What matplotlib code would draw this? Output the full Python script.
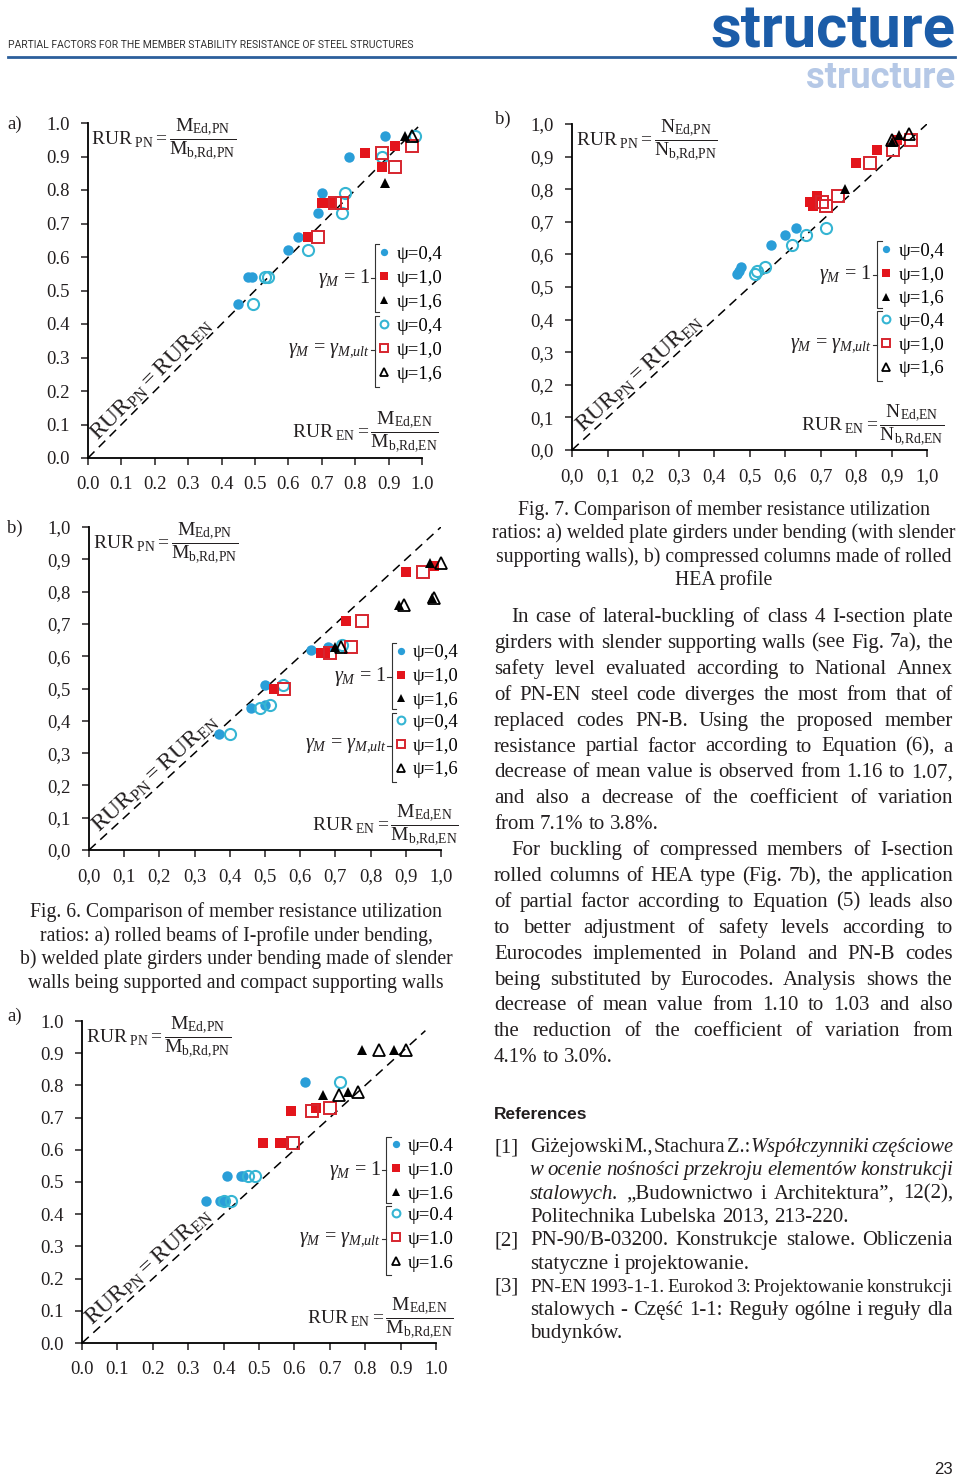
import math
import matplotlib
matplotlib.use("Agg")
import matplotlib.pyplot as plt

plt.rcParams["font.family"] = ["Liberation Serif", "DejaVu Serif"]
plt.rcParams["mathtext.fontset"] = "custom"
plt.rcParams["mathtext.rm"] = "Liberation Serif"
plt.rcParams["mathtext.it"] = "Liberation Serif:italic"
plt.rcParams["mathtext.bf"] = "Liberation Serif:bold"

# ---- values (x = RUR_EN, y = RUR_PN) ----
# Fig. 6a: rolled beams of I-profile under bending
f6a_circle_full = [(0.45, 0.46), (0.48, 0.54), (0.49, 0.54), (0.60, 0.62), (0.63, 0.66),
                   (0.69, 0.73), (0.70, 0.79), (0.78, 0.90), (0.89, 0.96)]
f6a_circle_open = [(0.495, 0.46), (0.53, 0.54), (0.54, 0.54), (0.66, 0.62), (0.76, 0.73),
                   (0.77, 0.79), (0.88, 0.90), (0.98, 0.96)]
f6a_square_full = [(0.66, 0.66), (0.70, 0.76), (0.715, 0.76), (0.73, 0.76), (0.83, 0.91),
                   (0.88, 0.87), (0.92, 0.93)]
f6a_square_open = [(0.69, 0.66), (0.74, 0.76), (0.76, 0.76), (0.88, 0.91), (0.92, 0.87), (0.97, 0.93)]
f6a_tri_full = [(0.89, 0.82), (0.95, 0.96)]
f6a_tri_open = [(0.97, 0.96)]

# Fig. 6b: welded plate girders, slender walls supported
f6b_circle_full = [(0.37, 0.36), (0.46, 0.44), (0.50, 0.45), (0.50, 0.51), (0.63, 0.62), (0.68, 0.63)]
f6b_circle_open = [(0.40, 0.36), (0.485, 0.44), (0.515, 0.45), (0.55, 0.51), (0.72, 0.635)]
f6b_square_full = [(0.525, 0.50), (0.66, 0.61), (0.67, 0.61), (0.73, 0.71), (0.90, 0.86), (0.98, 0.88)]
f6b_square_open = [(0.555, 0.50), (0.685, 0.61), (0.745, 0.63), (0.775, 0.71), (0.95, 0.86)]
f6b_tri_full = [(0.70, 0.63), (0.88, 0.76), (0.975, 0.78), (0.97, 0.89)]
f6b_tri_open = [(0.715, 0.63), (0.895, 0.76), (0.98, 0.78), (1.0, 0.89)]

# Fig. 7a: welded plate girders with slender supporting walls
f7a_circle_full = [(0.35, 0.44), (0.39, 0.44), (0.40, 0.44), (0.41, 0.52), (0.45, 0.52),
                   (0.455, 0.52), (0.63, 0.81)]
f7a_circle_open = [(0.40, 0.44), (0.42, 0.44), (0.47, 0.52), (0.49, 0.52), (0.73, 0.81)]
f7a_square_full = [(0.51, 0.62), (0.56, 0.62), (0.57, 0.62), (0.59, 0.72), (0.66, 0.73)]
f7a_square_open = [(0.595, 0.62), (0.65, 0.72), (0.70, 0.73)]
f7a_tri_full = [(0.68, 0.77), (0.75, 0.78), (0.79, 0.91), (0.88, 0.91)]
f7a_tri_open = [(0.725, 0.77), (0.78, 0.78), (0.84, 0.91), (0.915, 0.91)]

# Fig. 7b: compressed columns of rolled HEA profile
f7b_circle_full = [(0.465, 0.54), (0.47, 0.55), (0.475, 0.56), (0.56, 0.63), (0.60, 0.66), (0.63, 0.68)]
f7b_circle_open = [(0.515, 0.54), (0.52, 0.55), (0.545, 0.56), (0.62, 0.63), (0.66, 0.66), (0.715, 0.68)]
f7b_square_full = [(0.67, 0.76), (0.68, 0.75), (0.69, 0.78), (0.80, 0.88), (0.86, 0.92), (0.915, 0.95)]
f7b_square_open = [(0.705, 0.76), (0.715, 0.75), (0.75, 0.78), (0.84, 0.88), (0.905, 0.92), (0.955, 0.95)]
f7b_tri_full = [(0.77, 0.80), (0.90, 0.945), (0.92, 0.965)]
f7b_tri_open = [(0.90, 0.95), (0.95, 0.97)]

TICKS = [0.0, 0.1, 0.2, 0.3, 0.4, 0.5, 0.6, 0.7, 0.8, 0.9, 1.0]
PSI = ["0.4", "1.0", "1.6"]

HEADER = "PARTIAL FACTORS FOR THE MEMBER STABILITY RESISTANCE OF STEEL STRUCTURES"
FIG6_CAPTION = [
    "Fig. 6. Comparison of member resistance utilization",
    "ratios: a) rolled beams of I-profile under bending,",
    "b) welded plate girders under bending made of slender",
    "walls being supported and compact supporting walls",
]
FIG7_CAPTION = [
    "Fig. 7. Comparison of member resistance utilization",
    "ratios: a) welded plate girders under bending (with slender",
    "supporting walls), b) compressed columns made of rolled",
    "HEA profile",
]
PARA1 = [
    "In case of lateral-buckling of class 4 I-section plate",
    "girders with slender supporting walls (see Fig. 7a), the",
    "safety level evaluated according to National Annex",
    "of PN-EN steel code diverges the most from that of",
    "replaced codes PN-B. Using the proposed member",
    "resistance partial factor according to Equation (6), a",
    "decrease of mean value is observed from 1.16 to 1.07,",
    "and also a decrease of the coefficient of variation",
    "from 7.1% to 3.8%.",
]
PARA2 = [
    "For buckling of compressed members of I-section",
    "rolled columns of HEA type (Fig. 7b), the application",
    "of partial factor according to Equation (5) leads also",
    "to better adjustment of safety levels according to",
    "Eurocodes implemented in Poland and PN-B codes",
    "being substituted by Eurocodes. Analysis shows the",
    "decrease of mean value from 1.10 to 1.03 and also",
    "the reduction of the coefficient of variation from",
    "4.1% to 3.0%.",
]
# words starting with "_" are set in italics
REF1 = ["Giżejowski M., Stachura Z.: _Współczynniki _częściowe",
        "_w _ocenie _nośności _przekroju _elementów _konstrukcji",
        "_stalowych. „Budownictwo i Architektura”, 12(2),",
        "Politechnika Lubelska 2013, 213-220."]
REF2 = ["PN-90/B-03200. Konstrukcje stalowe. Obliczenia",
        "statyczne i projektowanie."]
REF3 = ["PN-EN 1993-1-1. Eurokod 3: Projektowanie konstrukcji",
        "stalowych - Część 1-1: Reguły ogólne i reguły dla",
        "budynków."]

W, H = 960, 1477
INK = "#231f20"
BLUE = "#2a9ed8"
CYAN = "#35b5d3"
RED = "#e3151c"
RED2 = "#d6252e"

STYLES = [
    dict(marker="o", ms=7.5, mfc=BLUE, mec=BLUE, mew=0),
    dict(marker="o", ms=8, mfc="none", mec=CYAN, mew=1.5),
    dict(marker="s", ms=7.5, mfc=RED, mec=RED, mew=0),
    dict(marker="s", ms=8, mfc="none", mec=RED2, mew=1.4),
    dict(marker="^", ms=7.5, mfc="black", mec="black", mew=0),
    dict(marker="^", ms=8, mfc="none", mec="black", mew=1.3),
]

fig = plt.figure(figsize=(W / 100, H / 100), dpi=100)
rend = fig.canvas.get_renderer()


def fx(x):
    return x / W


def fy(y):
    return 1 - y / H


def frac(sym, sub):
    return (r"$\mathrm{RUR}_{\ \mathrm{" + sub + r"}} = \dfrac{\mathrm{" + sym + r"}_{\mathrm{Ed{,}" + sub
            + r"}}}{\mathrm{" + sym + r"}_{\mathrm{b{,}Rd{,}" + sub + r"}}}$")


def panel(box, series, sep, psi_sep, sym, diag_end):
    x0, y0, x1, y1 = box
    ax = fig.add_axes([x0 / W, 1 - y1 / H, (x1 - x0) / W, (y1 - y0) / H])
    ax.set_xlim(0, 1)
    ax.set_ylim(0, 1)
    ax.patch.set_visible(False)
    ax.spines[["top", "right"]].set_visible(False)
    ax.spines[["left", "bottom"]].set_linewidth(1.3)
    labels = [f"{t:.1f}".replace(".", sep) for t in TICKS]
    ax.set_xticks(TICKS, labels)
    ax.set_yticks(TICKS, labels)
    ax.tick_params(direction="out", length=5, width=1.1, labelsize=13.5, colors=INK)
    ax.tick_params(axis="y", pad=8)
    ax.tick_params(axis="x", pad=8)

    ax.plot([0, diag_end], [0, diag_end], color="black", lw=1.1, ls=(0, (6, 4)), zorder=1)
    handles = []
    for pts, st in zip(series, STYLES):
        xs, ys = zip(*pts)
        h, = ax.plot(xs, ys, ls="none", clip_on=False, zorder=3, **st)
        handles.append(h)

    psi = [("ψ=" + p).replace(".", psi_sep) for p in PSI]
    kw = dict(loc="center left", frameon=False, fontsize=13.5, handlelength=0.6,
              handletextpad=0.35, borderpad=0, borderaxespad=0, labelspacing=0.36,
              markerscale=0.7)
    leg1 = ax.legend(handles[0::2], psi, bbox_to_anchor=(0.87, 0.537), **kw)
    ax.add_artist(leg1)
    ax.legend(handles[1::2], psi, bbox_to_anchor=(0.87, 0.322), **kw)

    for yc, top, bot in ((0.537, 0.64, 0.435), (0.322, 0.425, 0.212)):
        ax.plot([0.872, 0.86, 0.86, 0.872], [top, top, bot, bot], color="#333333", lw=0.8,
                transform=ax.transAxes, clip_on=False)
        ax.plot([0.848, 0.86], [yc, yc], color="#333333", lw=0.8,
                transform=ax.transAxes, clip_on=False)
    ax.text(0.845, 0.537, r"$\gamma_M$ = 1", ha="right", va="center", fontsize=14.5,
            transform=ax.transAxes, color=INK)
    ax.text(0.845, 0.322, r"$\gamma_M$ = $\gamma_{M{,}ult}$", ha="right", va="center",
            fontsize=14.5, transform=ax.transAxes, color=INK)

    ax.text(0.01, 0.95, frac(sym, "PN"), ha="left", va="center", fontsize=14,
            transform=ax.transAxes, color=INK)
    ax.text(1.05, 0.075, frac(sym, "EN"), ha="right", va="center", fontsize=14,
            transform=ax.transAxes, color=INK)
    ang = math.degrees(math.atan2(y1 - y0, x1 - x0))
    ax.text(0.19, 0.235, r"$\mathrm{RUR_{PN} = RUR_{EN}}$", rotation=ang, ha="center",
            va="center", fontsize=17, transform=ax.transAxes, rotation_mode="anchor", color=INK)
    return ax


panel((88, 123, 422, 458),
      [f6a_circle_full, f6a_circle_open, f6a_square_full, f6a_square_open, f6a_tri_full, f6a_tri_open],
      ".", ",", "M", 1.0)
panel((572, 124, 927, 450),
      [f7b_circle_full, f7b_circle_open, f7b_square_full, f7b_square_open, f7b_tri_full, f7b_tri_open],
      ",", ",", "N", 1.0)
panel((89, 527, 441, 850),
      [f6b_circle_full, f6b_circle_open, f6b_square_full, f6b_square_open, f6b_tri_full, f6b_tri_open],
      ",", ",", "M", 1.0)
panel((82, 1021, 436, 1343),
      [f7a_circle_full, f7a_circle_open, f7a_square_full, f7a_square_open, f7a_tri_full, f7a_tri_open],
      ".", ".", "M", 0.97)

# panel letters
for s, x, y in (("a)", 7, 129), ("b)", 495, 124), ("b)", 7, 533), ("a)", 7, 1021)):
    fig.text(fx(x), fy(y), s, fontsize=13.5, color=INK, va="baseline")


def fit_text(x0, x1, y, s, **kw):
    t = fig.text(fx(x0), fy(y), s, va="baseline", ha="left", fontsize=10, **kw)
    w = t.get_window_extent(rend).width
    t.set_fontsize(10 * (x1 - x0) / w)
    return t


# header
fit_text(8, 412, 48, HEADER, family=["Liberation Sans Narrow", "Roboto"], color="#333333")
fig.add_artist(plt.Line2D([fx(8), fx(955)], [fy(57), fy(57)], color="#2c5f9c", lw=2,
                          transform=fig.transFigure))
fit_text(710, 955, 47, "structure", family=["Liberation Sans Narrow", "Roboto", "DejaVu Sans"],
         weight="bold", color="#1b5ca8")
fit_text(806, 955, 88, "structure", family=["Liberation Sans Narrow", "Roboto", "DejaVu Sans"],
         weight="bold", color="#b5c8e6")

CAPTION = 14.2
BODY = 15.0


def put_line(line, x0, y, size, x1=None):
    while True:
        arts = []
        for word in line.split():
            style = "normal"
            if word.startswith("_"):
                word, style = word[1:], "italic"
            arts.append(fig.text(fx(x0), fy(y), word, fontsize=size, fontstyle=style,
                                 va="baseline", color=INK))
        widths = [a.get_window_extent(rend).width for a in arts]
        gap = size * 100 / 72 * 0.25
        if x1 is not None and len(arts) > 1:
            gap = (x1 - x0 - sum(widths)) / (len(arts) - 1)
        if gap >= size * 100 / 72 * 0.05:
            break
        for a in arts:
            a.remove()
        size -= 0.2
    x = x0
    for a, w in zip(arts, widths):
        a.set_x(fx(x))
        x += w + gap


for i, s in enumerate(FIG6_CAPTION):
    fig.text(fx(236), fy(917 + 23.6 * i), s, fontsize=CAPTION, ha="center", va="baseline", color=INK)
for i, s in enumerate(FIG7_CAPTION):
    fig.text(fx(724), fy(515 + 23.4 * i), s, fontsize=CAPTION, ha="center", va="baseline", color=INK)

for k, para in enumerate((PARA1, PARA2)):
    for i, s in enumerate(para):
        n = k * len(PARA1) + i
        last = i == len(para) - 1
        put_line(s, 511 if i == 0 else 494, 622 + 25.9 * n, BODY, None if last else 953)

fig.text(fx(494), fy(1119), "References", fontsize=12.5, weight="bold",
         family=["Liberation Sans Narrow", "Liberation Sans"], color=INK, va="baseline")
row = 0
for tag, ref in (("[1]", REF1), ("[2]", REF2), ("[3]", REF3)):
    fig.text(fx(495), fy(1152 + 23.3 * row), tag, fontsize=BODY, va="baseline", color=INK)
    for i, s in enumerate(ref):
        last = i == len(ref) - 1
        put_line(s, 530, 1152 + 23.3 * row, BODY, None if last else 953)
        row += 1

fig.text(fx(953), fy(1474), "23", fontsize=12, family=["Liberation Sans"], ha="right",
         va="baseline", color=INK)

fig.savefig("out.png", dpi=100)
